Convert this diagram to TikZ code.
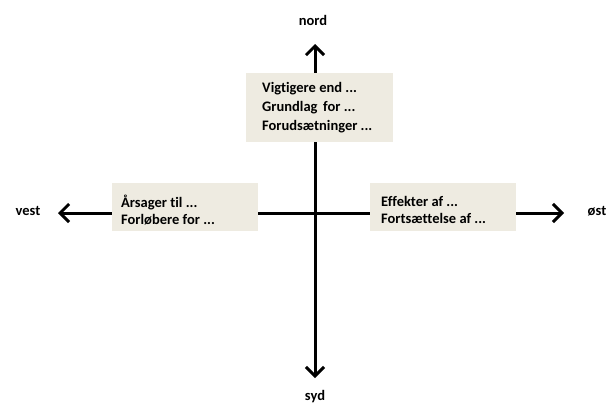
\documentclass[tikz,border=0pt]{standalone}
\usepackage{fontspec}
\setmainfont{Carlito}[Ligatures=NoCommon]
\usetikzlibrary{arrows.meta}
\definecolor{boxfill}{HTML}{EEEBE1}
\tikzset{
  axis/.style={line width=3pt, -{Straight Barb[length=9pt,width=18pt,line width=3pt]}},
  notebox/.style={inner sep=0pt, align=left, anchor=west,
    font=\bfseries\fontsize{14.5}{19}\selectfont},
  dirlabel/.style={font=\bfseries\fontsize{14.5}{16}\selectfont, inner sep=0pt}
}
\begin{document}
\begin{tikzpicture}[x=1pt,y=-1pt]
\useasboundingbox (0,0) rectangle (611,407);
\coordinate (c) at (315,213);
\coordinate (tipN) at (315,44);
\coordinate (tipS) at (315,378);
\coordinate (tipW) at (58,213);
\coordinate (tipE) at (564,213);
\draw[axis] (c) -- (tipN);
\draw[axis] (c) -- (tipS);
\draw[axis] (c) -- (tipW);
\draw[axis] (c) -- (tipE);
% boxes
\fill[boxfill] (246,73) rectangle (393,142);
\node[notebox] (topbox) at (262,108) {Vigtigere end ...\\Grundlag\, for ...\\Forudsætninger ...};
\fill[boxfill] (112,183) rectangle (258,231);
\node[notebox,font=\bfseries\fontsize{14.5}{17.5}\selectfont] (leftbox) at (121,210) {Årsager til ...\\Forløbere for ...};
\fill[boxfill] (370,183) rectangle (516,231);
\node[notebox,font=\bfseries\fontsize{14.5}{17.5}\selectfont] (rightbox) at (381,210) {Effekter af ...\\Fortsættelse af ...};
% labels
\node[dirlabel] (nord) at (313,20) {nord};
\node[dirlabel] (syd) at (315,397) {syd};
\node[dirlabel] (vest) at (28,211) {vest};
\node[dirlabel] (ost) at (597,211) {øst};
\end{tikzpicture}
\end{document}
